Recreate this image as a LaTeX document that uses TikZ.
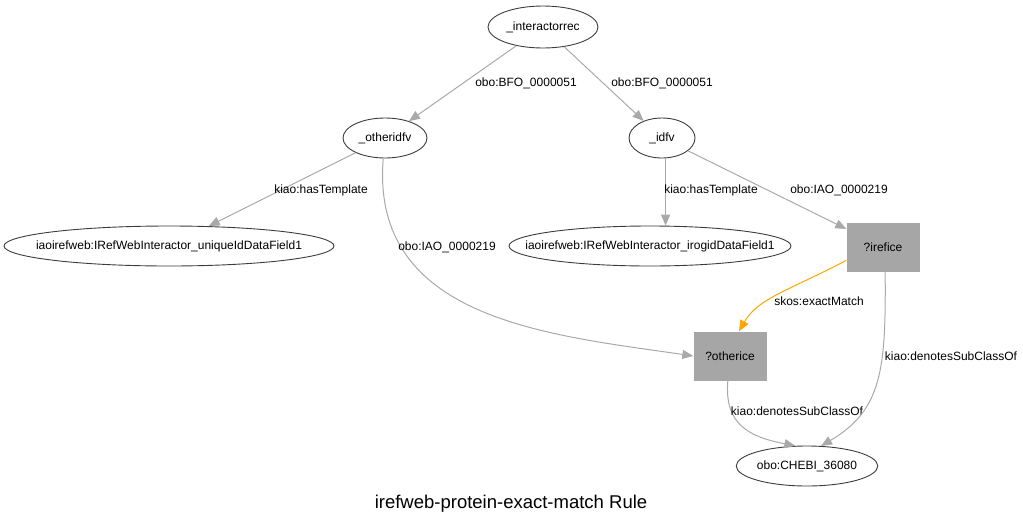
\documentclass[tikz,border=0pt]{standalone}
\usepackage{fontspec}
\setmainfont{Liberation Sans}
\usetikzlibrary{shapes.geometric,arrows.meta}
\definecolor{edgegray}{HTML}{A9A9A9}
\definecolor{boxgray}{HTML}{A6A6A6}
\definecolor{ringgray}{HTML}{3C3C3C}
\definecolor{matchorange}{HTML}{FFA500}
\begin{document}
\begin{tikzpicture}[x=1pt,y=-1pt,
    ent/.style={ellipse,draw=ringgray,line width=0.9pt,inner sep=0pt,minimum height=40,font=\fontsize{12}{14}\selectfont},
    longent/.style={ent,inner xsep=-40pt},
    var/.style={rectangle,fill=boxgray,inner sep=0pt,minimum width=73,minimum height=49,font=\fontsize{12}{14}\selectfont},
    rel/.style={draw=edgegray,line width=1pt,-{Triangle[length=11pt,width=9pt]}},
    lbl/.style={font=\fontsize{12}{14}\selectfont,inner sep=0pt}]
  \useasboundingbox (0,0) rectangle (1023,528);
  % nodes
  \node[ent,minimum width=110,minimum height=42] (intrec) at (543,27) {\_interactorrec};
  \node[ent,minimum width=84] (otheridfv) at (385,138) {\_otheridfv};
  \node[ent,minimum width=66] (idfv) at (662,138) {\_idfv};
  \node[longent,minimum width=330] (uniqueid) at (169,246) {iaoirefweb:IRefWebInteractor\_uniqueIdDataField1};
  \node[longent,minimum width=282] (irogid) at (650,246) {iaoirefweb:IRefWebInteractor\_irogidDataField1};
  \node[var] (irefice) at (883,247) {?irefice};
  \node[var] (otherice) at (730,356) {?otherice};
  \node[ent,minimum width=140] (chebi) at (807,466) {obo:CHEBI\_36080};
  \node[font=\fontsize{18.5}{22}\selectfont] (title) at (511,504) {irefweb-protein-exact-match Rule};
  % edges
  \draw[rel] (intrec) -- (otheridfv);
  \node[lbl] (l1) at (526,83) {obo:BFO\_0000051};
  \draw[rel] (intrec) -- (idfv);
  \node[lbl] (l2) at (662,83) {obo:BFO\_0000051};
  \draw[rel] (otheridfv) -- (uniqueid);
  \node[lbl] (l3) at (321,190) {kiao:hasTemplate};
  \draw[rel] (otheridfv.-95) .. controls (370,320) and (550,335) .. (otherice.west);
  \node[lbl] (l4) at (447,247) {obo:IAO\_0000219};
  \draw[rel] (idfv.-80) -- (idfv.-80 |- irogid.north);
  \node[lbl] (l5) at (711,190) {kiao:hasTemplate};
  \draw[rel] (idfv) -- (irefice);
  \node[lbl] (l6) at (839,190) {obo:IAO\_0000219};
  \draw[rel,draw=matchorange] (irefice.-160) .. controls (790,290) and (758,298) .. (otherice.70);
  \node[lbl] (l7) at (819,301) {skos:exactMatch};
  \draw[rel] (otherice.-95) .. controls (724,425) and (750,437) .. (chebi.120);
  \node[lbl] (l8) at (797,411) {kiao:denotesSubClassOf};
  \draw[rel] (irefice.-85) .. controls (886,370) and (882,410) .. (chebi.55);
  \node[lbl] (l9) at (951,356) {kiao:denotesSubClassOf};
\end{tikzpicture}
\end{document}
